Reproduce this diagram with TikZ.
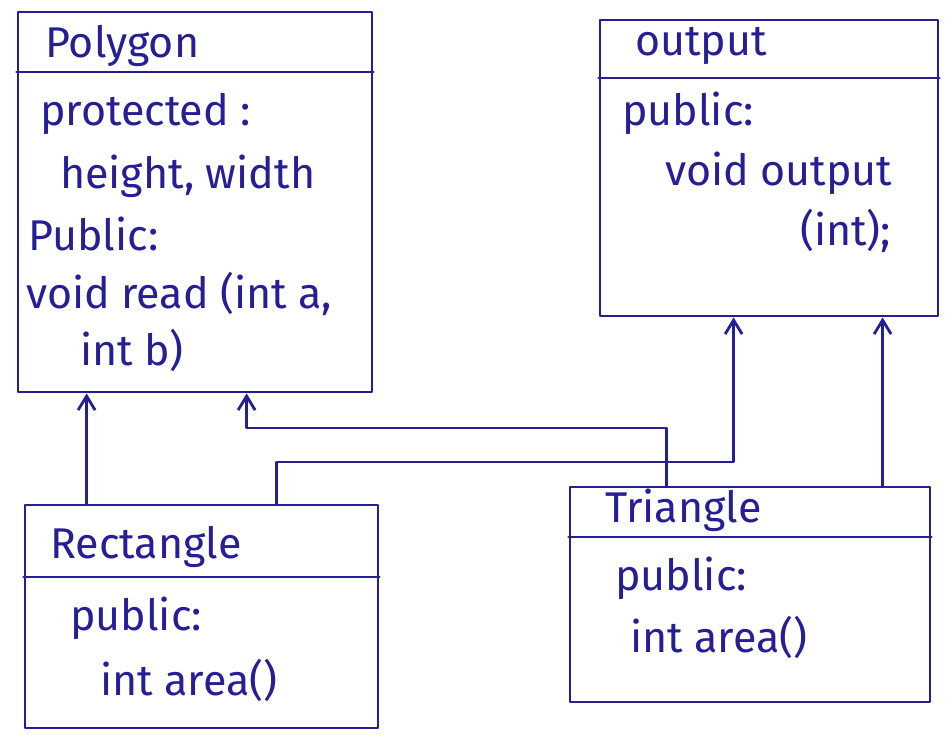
\documentclass[tikz,border=0pt]{standalone}
\usepackage{fontspec}
\setmainfont{Fira Sans}
\usetikzlibrary{arrows.meta}
\definecolor{ink}{RGB}{38,30,150}
\begin{document}
\begin{tikzpicture}[x=1pt,y=-1pt,
  ink line/.style={draw=ink,line width=2.8pt,line cap=round,line join=round},
  classbox/.style={ink line,rectangle,inner sep=0pt},
  label/.style={text=ink,anchor=base west,inner sep=0pt,font=\fontsize{43}{50}\selectfont},
  inherit/.style={ink line,-{Straight Barb[length=14pt,width=17pt,line width=2.8pt]}}]
\useasboundingbox[fill=white] (0,0) rectangle (945,734);

% class boxes
\node[classbox,minimum width=354pt,minimum height=380pt] (poly) at (195,202) {};
\node[classbox,minimum width=338pt,minimum height=296pt] (outp) at (769,168) {};
\node[classbox,minimum width=353pt,minimum height=223pt] (rect) at (201.5,616.5) {};
\node[classbox,minimum width=360pt,minimum height=215pt] (tri) at (750,594.5) {};

% header separators
\draw[ink line] (poly.west |- 0,72) -- (poly.east |- 0,72);
\draw[ink line] (outp.west |- 0,78) -- (outp.east |- 0,78);
\draw[ink line] (rect.west |- 0,577) -- (rect.east |- 0,577);
\draw[ink line] (tri.west |- 0,537) -- (tri.east |- 0,537);

% Polygon
\node[label] (polyname) at (45,57) {Polygon};
\node[label] (polyprot) at (40,125) {protected :};
\node[label] (polyattr) at (60,188) {height, width};
\node[label] (polypub) at (28,250) {Public:};
\node[label] (polyread) at (26,308) {void read (int a,};
\node[label] (polyreadb) at (80,365) {int b)};

% output
\node[label] (outname) at (635,55) {output};
\node[label] (outpub) at (622,125) {public:};
\node[label] (outfn) at (665,185) {void output};
\node[label] (outfnb) at (800,245) {(int);};

% Rectangle
\node[label] (rectname) at (50,558) {Rectangle};
\node[label] (rectpub) at (70,630) {public:};
\node[label] (rectarea) at (100,695) {int area()};

% Triangle
\node[label] (triname) at (605,522) {Triangle};
\node[label] (tripub) at (615,590) {public:};
\node[label] (triarea) at (630,652) {int area()};

% inheritance connectors
\coordinate (rA) at ([xshift=63pt]rect.north west);
\draw[inherit] (rA) -- (rA |- poly.south);

\coordinate (tB) at ([xshift=98pt]tri.north west);
\coordinate (pB) at ([xshift=230pt]poly.south west);
\draw[inherit] (tB) |- (0,428 -| pB) -- (pB);

\coordinate (rC) at ([xshift=253pt]rect.north west);
\coordinate (oC) at ([xshift=135pt]outp.south west);
\draw[inherit] (rC) |- (0,462 -| oC) -- (oC);

\coordinate (tD) at ([xshift=314pt]tri.north west);
\coordinate (oD) at ([xshift=284pt]outp.south west);
\draw[inherit] (tD) -- (oD);
\end{tikzpicture}
\end{document}
